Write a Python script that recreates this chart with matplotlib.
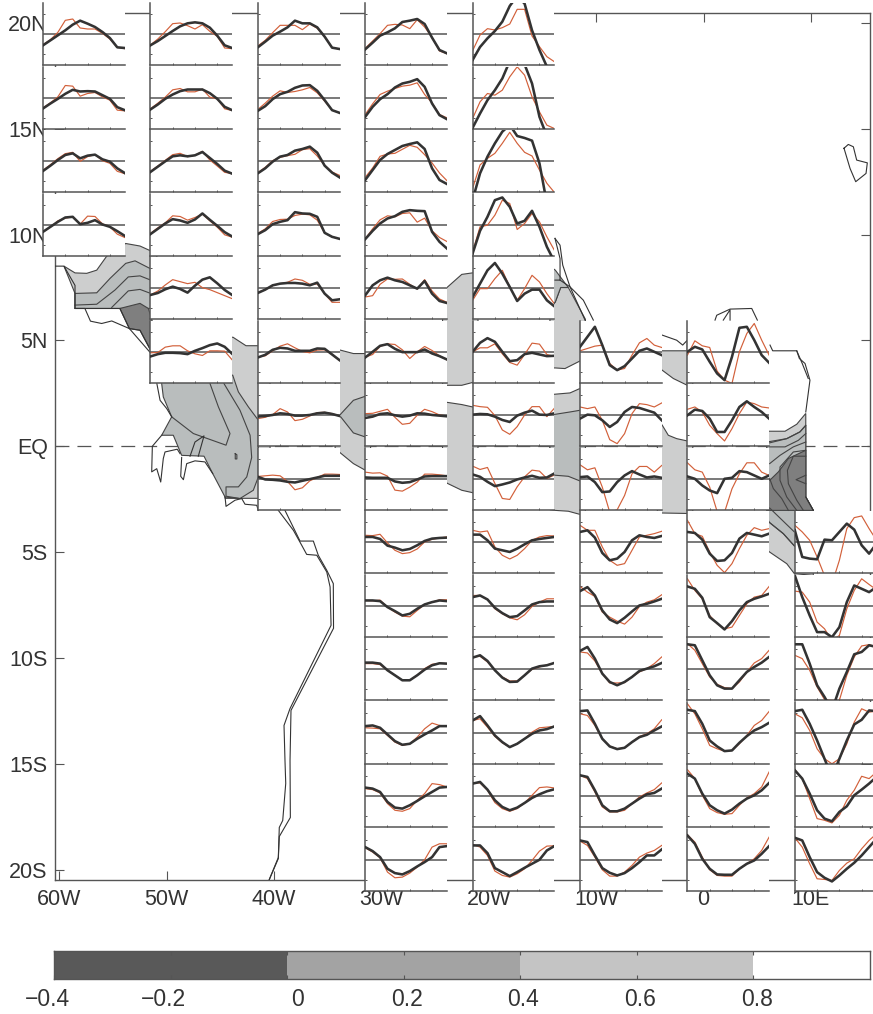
import matplotlib
matplotlib.use("Agg")
import matplotlib.pyplot as plt

plt.rcParams['font.family'] = ['Liberation Sans', 'DejaVu Sans']
plt.rcParams['lines.scale_dashes'] = False

MONTHS = list(range(1, 13))

# ---- seasonal curves: one list per row, top row first (thick = model, thin = observed)
thick_60W = [
 [-33,-18,-3,12,29,41,32,22,7,-11,-39,-41],
 [-32,-17,-3,12,24,19,20,19,8,-3,-28,-37],
 [-29,-13,4,19,24,9,17,20,6,-1,-21,-35],
 [-21,-6,9,22,24,2,6,14,1,-6,-19,-33]]
thin_60W = [
 [-31,-16,6,42,46,19,16,16,3,-14,-39,-43],
 [-30,-15,3,37,35,5,13,16,3,-7,-37,-39],
 [-27,-10,8,23,27,0,14,20,2,-6,-30,-37],
 [-21,-7,12,20,24,2,26,25,3,-6,-28,-38]]
thick_50W = [
 [-33,-20,-5,10,24,33,36,33,20,-4,-33,-41],
 [-35,-20,-3,10,20,25,25,25,14,-3,-27,-37],
 [-32,-16,0,15,18,15,18,28,10,-8,-28,-37],
 [-28,-12,4,17,13,6,16,34,15,-3,-22,-35],
 [-20,-14,-3,5,-2,-13,8,26,33,15,-5,-20],
 [-14,-7,-3,-3,-4,-7,3,11,20,25,15,-6]]
thin_50W = [
 [-32,-14,8,32,34,26,16,29,9,-6,-41,-43],
 [-33,-16,2,24,28,18,18,26,2,-3,-33,-38],
 [-30,-14,3,20,24,14,18,30,4,-14,-33,-37],
 [-26,-9,6,27,25,14,22,32,12,-7,-30,-37],
 [-20,-8,10,26,20,14,18,2,-4,-13,-22,-31],
 [-3,-2,14,18,18,3,-6,-11,3,3,2,-24]]
thick_40W = [
 [-39,-22,-4,8,21,41,33,33,21,-7,-40,-44],
 [-39,-25,-4,11,18,30,37,38,21,-7,-37,-45],
 [-36,-21,-1,14,19,32,37,44,26,-13,-34,-48],
 [-28,-16,2,9,14,38,34,33,24,-24,-36,-42],
 [-14,-4,9,14,16,16,14,9,17,-16,-36,-33],
 [-17,-9,6,12,10,3,3,3,10,9,-8,-25],
 [-4,-2,1,6,4,-1,-1,1,6,8,4,-2],
 [6,-2,-3,-5,-9,-11,-6,-1,4,9,9,9]]
thin_40W = [
 [-35,-18,5,27,27,27,14,31,18,-7,-40,-44],
 [-35,-16,5,21,16,19,24,31,15,-10,-37,-45],
 [-34,-18,2,12,17,21,35,38,16,-12,-32,-42],
 [-26,-12,10,16,17,28,32,30,14,-24,-36,-42],
 [-12,-4,8,14,18,28,24,12,13,-16,-42,-42],
 [-16,-12,3,17,24,12,1,-3,5,6,-8,-26],
 [-10,-6,2,20,10,-16,-12,-2,8,9,5,-2],
 [7,9,11,9,-8,-33,-27,-6,4,14,14,13]]
thick_30W = [
 [-45,-25,-4,6,18,37,41,46,31,-10,-47,-57],
 [-57,-27,-4,11,31,43,48,56,33,-17,-52,-64],
 [-56,-26,4,22,34,46,52,57,37,-21,-56,-68],
 [-43,-18,4,19,26,39,44,42,41,-21,-51,-71],
 [-21,9,24,32,24,19,9,-1,22,-16,-38,-44],
 [-17,0,18,23,9,-1,-1,-1,7,-5,-13,-23],
 [-8,-4,4,6,0,-4,-1,6,5,1,-1,-3],
 [4,3,3,3,-8,-12,-10,-2,7,8,8,8],
 [16,16,10,-10,-16,-24,-20,-9,4,11,13,14],
 [16,16,14,-4,-16,-29,-24,-9,4,11,16,14],
 [20,20,17,-3,-18,-33,-33,-18,-1,12,18,17],
 [20,22,15,-5,-25,-36,-33,-18,-5,7,20,20],
 [26,23,13,-17,-34,-37,-27,-14,0,13,26,28],
 [38,26,8,-27,-40,-44,-34,-20,-7,8,38,41]]
thin_30W = [
 [-42,-20,2,27,30,28,17,44,22,-9,-50,-58],
 [-50,-18,10,20,28,35,38,45,10,-15,-50,-60],
 [-48,-20,15,22,24,36,48,42,20,-5,-35,-58],
 [-42,-12,15,27,24,34,36,8,20,-18,-38,-50],
 [-26,-22,12,28,27,28,12,-2,26,-8,-32,-42],
 [-16,-8,16,24,22,6,-20,0,16,4,-12,-24],
 [5,6,12,18,-6,-27,-24,0,18,11,1,-2],
 [20,17,18,8,-34,-37,-25,-10,14,14,12,9],
 [21,20,24,-2,-24,-34,-31,-20,1,9,13,16],
 [16,15,17,-4,-19,-31,-33,-14,4,11,18,18],
 [17,17,14,-3,-18,-33,-33,-18,2,15,18,17],
 [15,14,12,-8,-28,-38,-33,-13,12,29,22,20],
 [23,20,10,-22,-42,-45,-37,-12,8,38,35,28],
 [36,23,6,-37,-54,-52,-40,-22,0,38,48,48]]
thick_20W = [
 [-77,-38,-12,10,38,85,115,92,12,-47,-97,-130],
 [-90,-47,-7,23,58,110,135,100,43,-57,-115,-150],
 [-116,-36,14,54,89,109,76,70,62,-6,-126,-170],
 [-86,-18,24,74,82,54,4,12,42,-6,-66,-110],
 [-26,14,54,76,44,4,-38,-16,-4,-4,-36,-54],
 [0,27,41,30,0,-28,-25,-7,-3,-8,-13,-12],
 [2,4,3,-4,-14,-20,-1,8,14,2,1,6],
 [13,6,-9,-22,-17,-11,-2,4,9,3,4,16],
 [23,23,6,-19,-24,-29,-19,-6,6,10,13,16],
 [26,31,19,-6,-22,-34,-31,-14,4,11,13,13],
 [35,42,25,-3,-25,-38,-37,-18,2,9,12,19],
 [37,50,22,-8,-28,-43,-33,-18,-3,7,11,19],
 [38,43,20,-12,-32,-42,-34,-20,-5,6,15,21],
 [43,43,20,-25,-37,-49,-37,-24,-12,0,28,41]]
thin_20W = [
 [-49,-2,17,13,20,31,75,75,-5,-37,-67,-82],
 [-62,-12,13,8,23,63,93,68,3,-42,-82,-92],
 [-81,-11,9,24,54,87,54,27,16,-26,-66,-93],
 [-81,-6,-1,29,74,64,-14,4,34,9,-36,-76],
 [-36,-1,-1,29,54,4,-36,-1,39,19,-16,-46],
 [0,12,12,24,-6,-32,-40,-8,26,23,-8,-14],
 [30,26,24,-1,-44,-57,-34,1,26,26,-4,21],
 [38,28,34,-14,-59,-62,-24,6,26,23,1,11],
 [36,31,34,-14,-39,-50,-39,-19,6,16,20,19],
 [31,31,19,-9,-24,-36,-42,-27,-2,11,21,21],
 [37,39,22,-3,-23,-35,-35,-18,0,7,13,19],
 [37,42,17,-11,-30,-43,-33,-18,2,15,17,19],
 [40,40,18,-19,-37,-45,-37,-20,3,26,28,25],
 [46,38,13,-34,-47,-52,-42,-27,-2,26,41,42]]
thick_10W = [
 [15,45,75,20,-40,-55,-43,-20,3,10,0,-10],
 [-10,2,0,-15,-35,-20,10,25,22,15,8,-15],
 [5,7,-10,-40,-38,-10,10,23,13,4,7,3],
 [31,36,14,-32,-54,-49,-29,6,21,16,13,19],
 [44,56,31,-14,-41,-52,-36,-17,1,6,13,21],
 [55,67,32,-13,-38,-48,-38,-23,-5,2,9,19],
 [65,67,27,-18,-41,-49,-45,-28,-13,-6,7,19],
 [63,58,18,-27,-45,-45,-37,-22,-7,6,10,23],
 [58,53,13,-25,-39,-47,-40,-25,-7,13,13,31]]
thin_10W = [
 [3,10,17,20,-35,-55,-50,-10,27,40,20,13],
 [25,20,25,-15,-73,-85,-55,5,35,32,25,37],
 [42,27,33,-25,-100,-93,-50,15,37,37,20,40],
 [51,36,36,-14,-54,-69,-64,-24,16,21,26,33],
 [58,41,28,-19,-34,-46,-55,-34,-2,11,18,33],
 [52,49,25,-13,-41,-41,-40,-23,-8,2,17,37],
 [57,52,22,-18,-40,-48,-45,-28,-11,-3,12,39],
 [63,53,13,-32,-47,-47,-42,-22,-2,10,20,40],
 [56,43,8,-30,-49,-49,-37,-17,8,20,28,43]]
thick_0 = [
 [0,15,7,-30,-65,-85,-15,72,75,35,-10,-33],
 [0,17,13,-10,-50,-50,-15,25,42,25,10,-10],
 [7,0,-20,-35,-43,0,3,23,20,10,0,10],
 [31,28,8,-34,-56,-54,-32,11,28,23,18,26],
 [58,51,24,-34,-52,-71,-46,-14,11,21,28,36],
 [75,72,27,-18,-48,-58,-58,-33,-8,7,20,37],
 [69,65,27,-23,-41,-55,-53,-30,-10,7,17,30],
 [68,53,8,-27,-42,-52,-40,-22,-7,3,18,40],
 [73,48,3,-27,-44,-45,-45,-27,-12,-2,18,41]]
thin_0 = [
 [-10,33,18,13,-58,-85,-95,0,55,85,35,-10],
 [18,25,10,-30,-55,-77,-40,5,40,35,25,22],
 [48,27,20,-25,-98,-100,-30,15,48,48,20,10],
 [66,26,18,-29,-69,-91,-64,-19,21,44,36,41],
 [81,46,21,-29,-54,-69,-64,-29,6,26,31,58],
 [77,57,17,-23,-45,-55,-58,-38,-8,19,32,57],
 [87,57,12,-38,-48,-55,-53,-33,-8,22,37,64],
 [80,53,3,-37,-49,-54,-52,-27,-5,8,28,73],
 [75,53,8,-30,-47,-49,-49,-27,-12,3,28,68]]
thick_10E = [
 [36,-44,-49,-51,8,6,31,56,38,-9,-34,-4],
 [91,26,-29,-79,-79,-94,-64,11,61,51,41,56],
 [75,75,17,-48,-83,-123,-58,-8,45,52,72,67],
 [65,69,27,-23,-78,-133,-78,-23,25,39,67,65],
 [78,53,8,-42,-67,-75,-47,-30,3,20,38,58],
 [66,58,8,-37,-54,-65,-47,-27,-9,13,38,63]]
thin_10E = [
 [51,31,6,-44,-100,-125,-54,41,74,79,41,6],
 [44,41,11,-49,-69,-104,-89,-9,46,81,64,48],
 [42,32,-3,-53,-91,-93,-93,-18,37,70,74,67],
 [57,45,7,-48,-78,-93,-78,-33,32,72,62,65],
 [80,53,-7,-67,-72,-80,-57,-12,18,60,53,73],
 [66,38,-12,-57,-59,-62,-32,-10,3,33,58,78]]

COLUMN_LONS = [-61.5, -51.5, -41.5, -31.5, -21.5, -11.5, -1.5, 8.5]
COLUMN_FIRST_LAT = [19.5, 19.5, 19.5, 19.5, 19.5, 4.5, 4.5, -4.5]
COLUMN_THICK = [thick_60W, thick_50W, thick_40W, thick_30W, thick_20W, thick_10W, thick_0, thick_10E]
COLUMN_THIN = [thin_60W, thin_50W, thin_40W, thin_30W, thin_20W, thin_10W, thin_0, thin_10E]

LON_TICKS = [-60, -50, -40, -30, -20, -10, 0, 10]
LON_LABELS = ['60W', '50W', '40W', '30W', '20W', '10W', '0', '10E']
LAT_TICKS = [20, 15, 10, 5, 0, -5, -10, -15, -20]
LAT_LABELS = ['20N', '15N', '10N', '5N', 'EQ', '5S', '10S', '15S', '20S']

CBAR_LEVELS = [-0.4, 0, 0.4, 0.8, 1.0]
CBAR_TICKS = [-0.4, -0.2, 0, 0.2, 0.4, 0.6, 0.8]
CBAR_LABELS = ['\u22120.4', '\u22120.2', '0', '0.2', '0.4', '0.6', '0.8']

# ---- correlation contours (lon, lat)
LIGHT, MID, DARK = '#cdcece', '#b9bdbd', '#7f7f7f'
shaded_regions = [
 (LIGHT, [(-59.55,8.51),(-58.52,8.19),(-57.43,8.17),(-56.5,8.32),(-55.57,8.98),(-53.8,9.58),(-52.47,9.46),(-51.47,9.23),(-50.9,9.0),(-50.9,6.51),(-58.52,6.51),(-58.52,7.22)]),
 (MID, [(-58.52,7.22),(-56.5,7.25),(-55.26,7.93),(-53.8,8.64),(-52.93,8.76),(-51.54,8.4),(-50.91,8.24),(-50.91,6.51),(-58.52,6.51)]),
 (DARK, [(-54.34,6.51),(-52.47,6.75),(-51.69,6.51),(-51.35,5.96),(-51.0,4.4),(-51.35,4.4),(-52.47,5.48),(-53.46,5.56)]),
 (LIGHT, [(-44.55,5.15),(-43.81,5.15),(-42.6,4.75),(-40.36,4.75),(-40.36,-2.46),(-44.55,-2.46)]),
 (MID, [(-50.45,2.96),(-50.3,2.33),(-49.52,1.39),(-50.45,0.52),(-49.37,0.52),(-48.59,-0.43),(-46.51,-0.47),(-45.7,-1.29),(-44.55,-2.4),(-43.16,-2.47),(-41.92,-2.08),(-41.45,-1.45),(-41.45,1.23),(-42.38,1.86),(-43.31,2.57),(-43.84,3.36),(-50.45,3.36)]),
 (LIGHT, [(-34.3,4.6),(-33.8,4.54),(-32.6,4.38),(-31.5,4.38),(-31.0,4.38),(-31.0,-1.2),(-31.5,-1.13),(-32.6,-0.82),(-33.8,-0.32),(-34.3,-0.1)]),
 (MID, [(-34.3,1.2),(-33.8,1.51),(-32.6,2.17),(-31.5,2.36),(-31.0,2.4),(-31.0,0.4),(-31.5,0.44),(-32.6,0.63),(-33.8,1.4)]),
 (LIGHT, [(-24.3,7.3),(-23.82,7.53),(-22.51,8.12),(-21.53,8.19),(-21.0,8.2),(-21.0,3.05),(-21.53,3.01),(-22.51,2.88),(-23.82,2.88),(-24.3,2.88)]),
 (LIGHT, [(-24.3,2.1),(-23.82,2.07),(-22.51,1.97),(-21.53,1.86),(-21.0,1.8),(-21.0,-2.3),(-21.53,-2.19),(-22.51,-2.08),(-23.82,-1.76),(-24.3,-1.6)]),
 (LIGHT, [(-14.3,6.5),(-13.8,6.82),(-13.3,7.5),(-12.59,7.5),(-11.0,6.0),(-11.0,4.2),(-11.34,4.07),(-12.9,3.67),(-13.8,3.7),(-14.3,3.7)]),
 (MID, [(-14.3,8.5),(-13.8,8.32),(-12.59,7.5),(-13.3,7.5),(-13.8,6.82),(-14.3,6.5)]),
 (LIGHT, [(-14.3,2.44),(-13.8,2.46),(-12.43,2.52),(-11.5,2.73),(-11.0,2.8),(-11.0,-3.3),(-11.5,-3.22),(-12.59,-3.07),(-13.8,-3.03),(-14.3,-3.0)]),
 (MID, [(-14.3,1.48),(-13.8,1.51),(-12.43,1.62),(-11.5,1.7),(-11.0,1.75),(-11.0,-1.75),(-11.5,-1.64),(-12.59,-1.42),(-13.8,-1.37),(-14.3,-1.3)]),
 (LIGHT, [(-4.3,4.51),(-1.0,4.51),(-1.0,2.7),(-1.51,2.88),(-2.81,3.2),(-3.84,3.59),(-4.3,3.8)]),
 (LIGHT, [(-4.3,1.3),(-3.84,0.99),(-3.28,0.52),(-2.5,0.36),(-1.51,0.25),(-1.0,0.2),(-1.0,-3.18),(-4.3,-3.15)]),
 (LIGHT, [(5.9,0.71),(7.59,0.71),(8.68,1.04),(9.52,1.55),(9.52,-2.4),(10.22,-3.03),(10.22,-6.1),(8.46,-6.02),(7.75,-5.55),(6.16,-5.0),(5.9,-4.9)]),
 (MID, [(5.9,0.2),(7.75,0.36),(8.98,0.68),(9.52,0.99),(9.52,-2.4),(10.22,-3.03),(10.22,-5.0),(8.46,-4.71),(7.43,-4.13),(6.16,-3.61),(5.9,-3.4)]),
 (DARK, [(5.9,-1.4),(6.16,-1.61),(6.97,-1.21),(7.9,-0.58),(9.52,-0.19),(9.52,-2.4),(10.22,-3.03),(5.9,-3.03)]),
]
contour_lines = [
 [(-58.52,6.67),(-56.5,6.71),(-54.8,7.38),(-53.56,8.0),(-52.47,8.05),(-51.47,7.85)],
 [(-55.1,6.56),(-53.56,7.34),(-52.47,7.41),(-51.47,7.22)],
 [(-45.95,2.96),(-45.17,1.86),(-44.09,0.6),(-44.46,0.05),(-47.5,0.6),(-49.52,1.39)],
 [(-44.65,2.96),(-43.16,1.7),(-42.22,0.52),(-42.07,-0.53),(-42.53,-1.45),(-43.31,-1.92),(-44.46,-1.92),(-44.46,-2.36),(-43.16,-2.47)],
 [(-43.6,-0.35),(-43.45,-0.4),(-43.45,-0.6),(-43.6,-0.6),(-43.6,-0.35)],
 [(6.16,0.16),(7.75,0.36),(8.98,0.68),(9.52,0.99)],
 [(6.16,-0.03),(7.59,-0.03),(8.83,0.28),(9.52,0.6)],
 [(6.16,-0.82),(7.12,-0.43),(8.36,-0.03),(9.52,0.2)],
 [(6.16,-1.53),(6.5,-2.0),(7.28,-2.47),(7.9,-3.03)],
 [(9.52,-0.19),(8.36,-0.27),(7.12,-0.98),(7.12,-1.61),(7.75,-2.4),(8.68,-3.03)],
 [(9.52,-0.47),(8.36,-0.47),(7.81,-1.14),(7.9,-1.77),(8.68,-2.55),(9.29,-3.03)],
 [(9.52,-1.37),(8.61,-1.58),(9.52,-1.77)],
 [(6.16,-2.92),(8.46,-4.05)],
 [(6.16,-3.61),(7.43,-4.13),(8.46,-4.71)],
]

# ---- coast outlines (lon, lat)
coast_lines = [
 [(-60.4,8.51),(-59.55,8.51),(-58.52,7.6),(-58.52,6.51),(-54.34,6.51),(-53.46,5.56),(-52.47,5.48),(-51.47,4.54)],
 [(-58.52,6.51),(-57.6,6.51),(-57.08,5.91),(-56.04,5.8),(-55.1,5.92),(-53.46,5.56),(-51.47,4.4)],
 [(-50.9,2.96),(-50.6,2.17),(-49.98,1.78),(-49.52,1.39)],
 [(-50.45,0.52),(-51.32,0),(-51.38,-1.21),(-50.91,-1.06),(-50.54,-1.69),(-50.3,-0.58),(-50.14,-0.27),(-49.0,-0.14),(-48.74,-0.35)],
 [(-48.59,-0.53),(-48.68,-1.42),(-48.43,-1.58),(-48.12,-0.82),(-47.35,-0.69),(-46.42,-0.74),(-45.7,-1.29)],
 [(-47.81,-0.47),(-47.35,0.2),(-46.51,0.49),(-47.04,-0.47)],
 [(-44.55,-2.4),(-44.46,-2.84),(-43.62,-2.55),(-43.0,-2.47),(-42.69,-2.74),(-41.6,-2.79),(-41.45,-3.03)],
 [(-38.97,-3.03),(-37.57,-4.48),(-36.33,-4.48),(-35.87,-5.15),(-35.08,-5.86),(-34.47,-6.49),(-34.45,-8.6),(-38.41,-12.48),(-38.5,-14.85),(-38.47,-17.54),(-39.5,-18.44),(-39.59,-19.48),(-40.43,-20.47)],
 [(-39.59,-3.03),(-38.19,-3.97),(-37.41,-4.68),(-36.95,-5.11),(-36.01,-5.15),(-35.08,-5.94),(-34.77,-6.65),(-34.68,-8.46),(-38.5,-12.39),(-39.06,-13.19),(-38.97,-14.85),(-38.9,-15.93),(-39.18,-17.68),(-39.5,-18.01),(-39.59,-19.43),(-40.43,-20.47)],
 [(-13.83,9.82),(-13.36,9.5),(-13.11,8.56),(-12.43,7.53),(-11.19,6.9),(-10.26,5.96)],
 [(-13.83,7.85),(-13.36,7.85),(-13.36,8.87),(-13.83,9.82)],
 [(-13.36,7.85),(-12.43,7.53),(-11.03,5.96)],
 [(-3.84,5.25),(-2.5,5.01),(-1.94,4.78),(-1.51,5.01),(-1.51,4.51)],
 [(1.07,5.96),(1.23,6.19),(2.47,6.48),(4.49,6.51),(5.01,5.96)],
 [(1.84,5.96),(2.47,6.45),(2.47,5.96)],
 [(6.19,4.78),(6.44,4.51),(8.68,4.51),(8.92,4.15),(9.45,3.91),(9.91,3.12),(9.52,1.62)],
 [(8.68,4.51),(9.2,3.9),(9.75,3.2)],
 [(9.52,-2.4),(10.22,-3.03)],
 [(13.08,14.08),(13.48,14.26),(13.95,14.15),(14.26,13.52),(15.25,13.39),(15.13,12.89),(14.17,12.5),(13.64,13.13),(13.08,14.08)],
]

# ---- layout
W, H = 873, 1014
SPINE = '#555555'
TEXT = '#333333'
fig = plt.figure(figsize=(W / 100, H / 100), dpi=100, facecolor='white')

def rect(x0, y0, x1, y1):
    return [x0 / W, 1 - y1 / H, (x1 - x0) / W, (y1 - y0) / H]

ax = fig.add_axes(rect(54.5, 13, 870, 879.5), zorder=0)
XLIM = (-60.43, 15.5)
YLIM = (-20.47, 20.47)
ax.set_xlim(XLIM)
ax.set_ylim(YLIM)
ax.axhline(0, color=SPINE, lw=0.9, dashes=(10, 5.8), zorder=1)
for color, pts in shaded_regions:
    ax.fill([p[0] for p in pts], [p[1] for p in pts], facecolor=color,
            edgecolor='#444444', lw=0.8, zorder=2)
for pts in contour_lines:
    ax.plot([p[0] for p in pts], [p[1] for p in pts], color='#444444', lw=0.8, zorder=3)
for pts in coast_lines:
    ax.plot([p[0] for p in pts], [p[1] for p in pts], color='#333333', lw=0.8, zorder=3)
ax.set_xticks(LON_TICKS, LON_LABELS)
ax.set_yticks(LAT_TICKS, LAT_LABELS)
ax.tick_params(axis='x', which='major', direction='in', length=6.2, width=0.8, color=SPINE,
               top=True, bottom=True, labelsize=15.5, labelcolor=TEXT, pad=6.5)
ax.tick_params(axis='y', which='major', direction='in', length=6.2, width=0.8, color=SPINE,
               left=True, right=True, labelsize=15.5, labelcolor=TEXT, pad=4.8)
for s in ax.spines.values():
    s.set_color(SPINE)
    s.set_linewidth(1.0)

# ---- seasonal-cycle insets, centred on their grid point
PX_X = (870 - 54.5) / (XLIM[1] - XLIM[0])
PX_Y = (879.5 - 13) / (YLIM[1] - YLIM[0])
INSET_W, INSET_H = 81.7, 62.0
for lon0, lat0, thick, thin in zip(COLUMN_LONS, COLUMN_FIRST_LAT, COLUMN_THICK, COLUMN_THIN):
    for i, (k, o) in enumerate(zip(thick, thin)):
        lat = lat0 - 3 * i
        x0 = 54.5 + (lon0 - XLIM[0]) * PX_X
        yc = 13 + (YLIM[1] - lat) * PX_Y + 0.8
        a = fig.add_axes(rect(x0, yc - INSET_H / 2, x0 + INSET_W, yc + INSET_H / 2), zorder=2)
        a.set_facecolor('white')
        a.set_xlim(1, 12)
        a.set_ylim(-93, 93)
        a.axhline(0, color=SPINE, lw=1.1, zorder=1)
        a.plot(MONTHS, o, color='#d2603a', lw=0.85, zorder=2)
        a.plot(MONTHS, k, color='#333333', lw=1.85, zorder=3)
        a.set_xticks([4, 7, 10])
        a.set_yticks([-60, 60])
        a.tick_params(direction='in', length=1.6, width=0.7, color=SPINE,
                      labelbottom=False, labelleft=False)
        a.spines['top'].set_visible(False)
        a.spines['right'].set_visible(False)
        a.spines['left'].set_color(SPINE)
        a.spines['bottom'].set_color(SPINE)
        a.spines['left'].set_linewidth(1.1)
        a.spines['bottom'].set_linewidth(1.1)

# ---- colour bar
cax = fig.add_axes(rect(54, 951, 870, 979), zorder=1)
cax.set_xlim(CBAR_LEVELS[0], CBAR_LEVELS[-1])
cax.set_ylim(0, 1)
for lo, hi, c in zip(CBAR_LEVELS[:-1], CBAR_LEVELS[1:], ['#595959', '#a3a3a3', '#c4c4c4', '#ffffff']):
    cax.axvspan(lo, hi, color=c, lw=0)
cax.set_yticks([])
cax.set_xticks(CBAR_TICKS, [''] * len(CBAR_TICKS))
cax.tick_params(axis='x', direction='in', length=3.2, width=0.8, color=SPINE, top=True, bottom=True)
for s in cax.spines.values():
    s.set_color(SPINE)
    s.set_linewidth(1.0)
label_shift_px = [-7, -7.6, 10, 3.4, 3, 3, 3.6]
for v, t, dx in zip(CBAR_TICKS, CBAR_LABELS, label_shift_px):
    cax.annotate(t, xy=(v, 0), xycoords=('data', 'axes fraction'),
                 xytext=(dx * 0.72, -14.5), textcoords='offset points',
                 ha='center', va='center', fontsize=16.5, color=TEXT, annotation_clip=False)

fig.savefig('out.png', dpi=100, facecolor='white')
